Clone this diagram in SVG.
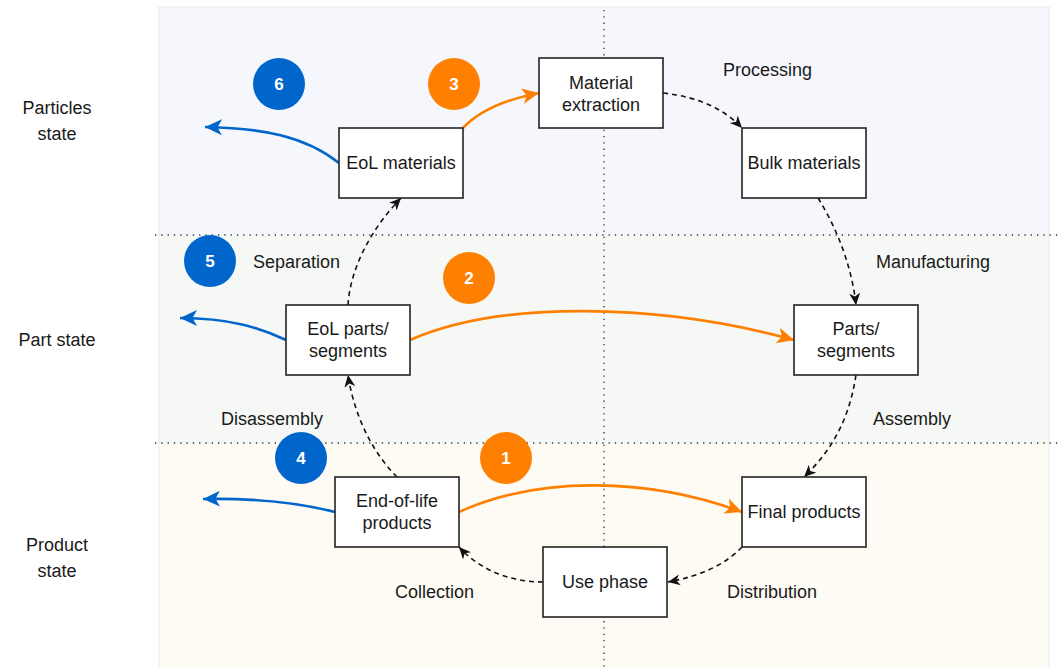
<svg xmlns="http://www.w3.org/2000/svg" width="1059" height="668" viewBox="0 0 1059 668">
<style>
  text { font-family: "Liberation Sans", Arial, sans-serif; font-size: 18px; fill: #1a1a1a; }
  .c { text-anchor: middle; }
  .num { font-weight: bold; fill: #ffffff; text-anchor: middle; font-size: 17px; }
  .box { fill: #ffffff; stroke: #222222; stroke-width: 1.6; }
  .dot { stroke: #333333; stroke-width: 1.3; stroke-dasharray: 1.3 5; fill: none; }
  .dash { stroke: #111111; stroke-width: 1.6; stroke-dasharray: 5 4; fill: none; }
  .orange { stroke: #ff8000; stroke-width: 2.6; fill: none; }
  .blue { stroke: #0066cc; stroke-width: 2.6; fill: none; }
</style>
<defs>
  <marker id="aO" markerUnits="userSpaceOnUse" markerWidth="20" markerHeight="18" refX="17" refY="8" orient="auto">
    <path d="M0,0 L17,8 L0,16 L4.5,8 Z" fill="#ff8000"/>
  </marker>
  <marker id="aB" markerUnits="userSpaceOnUse" markerWidth="20" markerHeight="18" refX="17" refY="8" orient="auto">
    <path d="M0,0 L17,8 L0,16 L4.5,8 Z" fill="#0066cc"/>
  </marker>
  <marker id="aK" markerUnits="userSpaceOnUse" markerWidth="14" markerHeight="14" refX="12" refY="5.5" orient="auto">
    <path d="M0,0 L12,5.5 L0,11 L3.5,5.5 Z" fill="#111111"/>
  </marker>
</defs>

<g id="background">
  <rect x="159" y="7" width="890" height="228" fill="#f5f7fc"/>
  <rect x="159" y="235" width="890" height="208" fill="#f5f8f5"/>
  <rect x="159" y="443" width="890" height="225" fill="#fdfbf4"/>
  <rect x="159" y="7" width="890" height="670" fill="none" stroke="#e6ebf3" stroke-width="1"/>
  <line class="dot" x1="155" y1="235" x2="1059" y2="235"/>
  <line class="dot" x1="155" y1="443" x2="1059" y2="443"/>
  <line class="dot" x1="604" y1="10" x2="604" y2="668"/>
</g>

<g id="state-labels">
  <text class="c" x="57" y="114">Particles</text>
  <text class="c" x="57" y="140">state</text>
  <text class="c" x="57" y="346">Part state</text>
  <text class="c" x="57" y="551">Product</text>
  <text class="c" x="57" y="577">state</text>
</g>

<g id="connectors">
  <path class="dash" d="M663,93 C700,97 725,110 742,128" marker-end="url(#aK)"/>
  <path class="dash" d="M818,198 C838,230 852,268 856,305" marker-end="url(#aK)"/>
  <path class="dash" d="M856,375 C849,420 832,450 804,477" marker-end="url(#aK)"/>
  <path class="dash" d="M742,547 C725,565 700,576 668,582" marker-end="url(#aK)"/>
  <path class="dash" d="M543,582 C510,582 480,570 459,547" marker-end="url(#aK)"/>
  <path class="dash" d="M397,477 C375,455 355,420 348,375" marker-end="url(#aK)"/>
  <path class="dash" d="M348,305 C350,270 370,230 401,198" marker-end="url(#aK)"/>

  <path class="orange" d="M463,128 C480,110 508,99 539,93" marker-end="url(#aO)"/>
  <path class="orange" d="M410,340 C500,300 660,303 794,340" marker-end="url(#aO)"/>
  <path class="orange" d="M459,512 C540,475 650,478 742,512" marker-end="url(#aO)"/>

  <path class="blue" d="M339,163 C305,136 262,128 205,127" marker-end="url(#aB)"/>
  <path class="blue" d="M286,340 C260,328 230,318 180,318" marker-end="url(#aB)"/>
  <path class="blue" d="M335,512 C300,503 255,498 203,499" marker-end="url(#aB)"/>

  <text x="723" y="76">Processing</text>
  <text x="876" y="268">Manufacturing</text>
  <text x="873" y="425">Assembly</text>
  <text x="727" y="598">Distribution</text>
  <text x="395" y="598">Collection</text>
  <text x="221" y="425">Disassembly</text>
  <text x="253" y="268">Separation</text>
</g>

<g id="node-material-extraction">
  <rect class="box" x="539" y="58" width="124" height="70"/>
  <text class="c" x="601" y="89">Material</text>
  <text class="c" x="601" y="111">extraction</text>
</g>
<g id="node-eol-materials">
  <rect class="box" x="339" y="128" width="124" height="70"/>
  <text class="c" x="401" y="169">EoL materials</text>
</g>
<g id="node-bulk-materials">
  <rect class="box" x="742" y="128" width="124" height="70"/>
  <text class="c" x="804" y="169">Bulk materials</text>
</g>
<g id="node-eol-parts">
  <rect class="box" x="286" y="305" width="124" height="70"/>
  <text class="c" x="348" y="335">EoL parts/</text>
  <text class="c" x="348" y="357">segments</text>
</g>
<g id="node-parts">
  <rect class="box" x="794" y="305" width="124" height="70"/>
  <text class="c" x="856" y="335">Parts/</text>
  <text class="c" x="856" y="357">segments</text>
</g>
<g id="node-eol-products">
  <rect class="box" x="335" y="477" width="124" height="70"/>
  <text class="c" x="397" y="507">End-of-life</text>
  <text class="c" x="397" y="529">products</text>
</g>
<g id="node-final-products">
  <rect class="box" x="742" y="477" width="124" height="70"/>
  <text class="c" x="804" y="518">Final products</text>
</g>
<g id="node-use-phase">
  <rect class="box" x="543" y="547" width="124" height="70"/>
  <text class="c" x="605" y="588">Use phase</text>
</g>

<g id="badge-6"><circle cx="279" cy="84" r="26" fill="#0066cc"/><text class="num" x="279" y="90">6</text></g>
<g id="badge-3"><circle cx="454" cy="84" r="26" fill="#ff8000"/><text class="num" x="454" y="90">3</text></g>
<g id="badge-5"><circle cx="210" cy="261" r="26" fill="#0066cc"/><text class="num" x="210" y="267">5</text></g>
<g id="badge-2"><circle cx="469" cy="278" r="26" fill="#ff8000"/><text class="num" x="469" y="284">2</text></g>
<g id="badge-4"><circle cx="301" cy="458" r="26" fill="#0066cc"/><text class="num" x="301" y="464">4</text></g>
<g id="badge-1"><circle cx="506" cy="458" r="26" fill="#ff8000"/><text class="num" x="506" y="464">1</text></g>
</svg>
